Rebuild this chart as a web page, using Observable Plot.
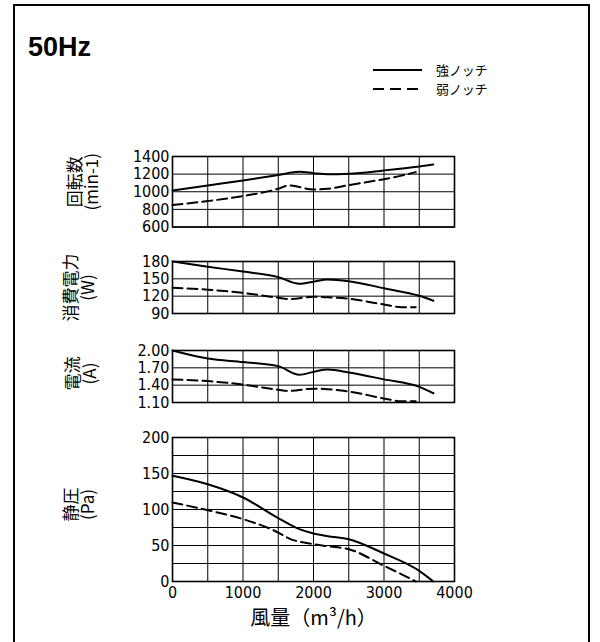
<!DOCTYPE html>
<html>
<head>
<meta charset="utf-8">
<script src="https://cdn.jsdelivr.net/npm/d3@7"></script>
<script src="https://cdn.jsdelivr.net/npm/@observablehq/plot@0.6"></script>
<style>
  html, body { margin: 0; padding: 0; background: #fff; }
  #wrap { position: relative; width: 600px; height: 642px; overflow: hidden; background: #fff; }
  #border { position: absolute; left: 13px; top: 4px; width: 577px; height: 650px; border: 2px solid #000; box-sizing: border-box; }
  #wrap svg.panel { position: absolute; left: 0; }
</style>
</head>
<body>
<div id="wrap">
  <div id="border"></div>
</div>
<script>
// ---- Data ----
const title = "50Hz";
const seriesNames = ["強ノッチ", "弱ノッチ"];
const xStrong = [0, 500, 1000, 1500, 1800, 2000, 2200, 2500, 3000, 3500, 3700];
const xWeak   = [0, 500, 1000, 1500, 1650, 2000, 2200, 2500, 3000, 3250, 3450];

const rpmStrong = [1015, 1072, 1128, 1189, 1226, 1211, 1198, 1204, 1242, 1287, 1309];
const rpmWeak   = [849, 894, 951, 1034, 1072, 1026, 1034, 1075, 1143, 1183, 1223];

const powerStrong = [180, 171, 162.5, 153, 141.5, 145, 149, 146, 133.6, 120.6, 112];
const powerWeak   = [134.7, 131.3, 125.7, 117.2, 115, 119, 118, 115.6, 105.5, 101, 101];

const currentStrong = [2.00, 1.86, 1.80, 1.73, 1.58, 1.63, 1.67, 1.62, 1.50, 1.37, 1.26];
const currentWeak   = [1.50, 1.47, 1.41, 1.32, 1.30, 1.34, 1.33, 1.29, 1.17, 1.12, 1.12];

const pressureStrong = [146.8, 135, 116.7, 88, 72.7, 66.7, 63, 58.8, 38.9, 14.8, 0];
const pressureWeak   = [109.7, 99, 86.6, 68, 60, 51.9, 49, 44.9, 21.8, 10, 0];

const xTicks = [0, 1000, 2000, 3000, 4000];
const xGrid = [0, 500, 1000, 1500, 2000, 2500, 3000, 3500, 4000];
const xLabel = "風量（m³/h）";

const rpmTicks = [600, 800, 1000, 1200, 1400];
const powerTicks = [90, 120, 150, 180];
const currentTicks = [1.10, 1.40, 1.70, 2.00];
const pressureTicks = [0, 50, 100, 150, 200];
const pressureGrid = [0, 25, 50, 75, 100, 125, 150, 175, 200];

const yLabels = ["回転数\n(min-1)", "消費電力\n(W)", "電流\n(A)", "静圧\n(Pa)"];

// ---- Build ----
const tickFont = "'Liberation Sans Narrow','DejaVu Sans Condensed','Liberation Sans',sans-serif";
const jpFont = "'Noto Sans CJK JP',sans-serif";

function rows(xs, ys) { return xs.map((x, i) => ({x, y: ys[i]})); }

function panel({strong, weak, domain, ticks, grid, fmt, label, top, plotH, dx, dy, bottomAxis}) {
  const marks = [
    Plot.ruleX(xGrid, {stroke: "#000", strokeWidth: 1}),
    Plot.ruleY(grid, {stroke: "#000", strokeWidth: 1}),
    Plot.frame({stroke: "#000", strokeWidth: 1.6}),
    Plot.line(rows(xStrong, strong), {x: "x", y: "y", stroke: "#000", strokeWidth: 2, curve: "monotone-x"}),
    Plot.line(rows(xWeak, weak), {x: "x", y: "y", stroke: "#000", strokeWidth: 2, strokeDasharray: "10,5", curve: "monotone-x"}),
    Plot.axisY(ticks, {tickSize: 0, tickPadding: 3, tickFormat: fmt, label: null, fontSize: 16, fontFamily: tickFont}),
    Plot.text([label], {frameAnchor: "left", textAnchor: "middle", lineAnchor: "middle", rotate: -90, dx, dy, fontSize: 17, lineHeight: 1.0, fontFamily: jpFont, fill: "#000"})
  ];
  if (bottomAxis) {
    marks.push(Plot.axisX(xTicks, {tickSize: 0, tickPadding: 5, tickFormat: d => String(d), label: null, fontSize: 16, fontFamily: tickFont}));
    marks.push(Plot.text([xLabel], {frameAnchor: "bottom", textAnchor: "middle", lineAnchor: "middle", dy: 37, fontSize: 20, fontFamily: jpFont, fill: "#000"}));
  }
  const mt = 10, mb = bottomAxis ? 55 : 6;
  const svg = Plot.plot({
    width: 600,
    height: mt + plotH + mb,
    marginLeft: 172,
    marginRight: 146,
    marginTop: mt,
    marginBottom: mb,
    x: {domain: [0, 4000], axis: null},
    y: {domain, axis: null},
    style: {background: "transparent", color: "#000", fontFamily: tickFont},
    marks
  });
  svg.classList.add("panel");
  svg.style.top = (top - mt) + "px";
  svg.style.overflow = "visible";
  return svg;
}

const wrap = document.getElementById("wrap");
wrap.appendChild(panel({strong: rpmStrong, weak: rpmWeak, domain: [600, 1400], ticks: rpmTicks, grid: rpmTicks, fmt: d => String(d), label: yLabels[0], top: 155.5, plotH: 70.5, dx: -88, dy: -10}));
wrap.appendChild(panel({strong: powerStrong, weak: powerWeak, domain: [90, 180], ticks: powerTicks, grid: powerTicks, fmt: d => String(d), label: yLabels[1], top: 261, plotH: 52, dx: -92, dy: 0}));
wrap.appendChild(panel({strong: currentStrong, weak: currentWeak, domain: [1.10, 2.00], ticks: currentTicks, grid: currentTicks, fmt: d => d.toFixed(2), label: yLabels[2], top: 349.5, plotH: 52, dx: -90, dy: -3}));
wrap.appendChild(panel({strong: pressureStrong, weak: pressureWeak, domain: [0, 200], ticks: pressureTicks, grid: pressureGrid, fmt: d => String(d), label: yLabels[3], top: 436.7, plotH: 144, dx: -92, dy: -5, bottomAxis: true}));

// Title and legend
const ns = "http://www.w3.org/2000/svg";
const over = document.createElementNS(ns, "svg");
over.setAttribute("width", 600); over.setAttribute("height", 120);
over.style.position = "absolute"; over.style.left = "0"; over.style.top = "0";
const jp = jpFont.replace(/'/g, "");
over.innerHTML = `
  <text x="28" y="56" font-family="Liberation Sans, Arial, sans-serif" font-weight="bold" font-size="27" fill="#000">${title}</text>
  <line x1="373" x2="422" y1="70" y2="70" stroke="#000" stroke-width="2"/>
  <line x1="373" x2="422" y1="89" y2="89" stroke="#000" stroke-width="2" stroke-dasharray="11,6"/>
  <text x="436" y="75" font-family="${jp}" font-size="13" fill="#000">${seriesNames[0]}</text>
  <text x="436" y="94" font-family="${jp}" font-size="13" fill="#000">${seriesNames[1]}</text>
`;
wrap.appendChild(over);
</script>
</body>
</html>
